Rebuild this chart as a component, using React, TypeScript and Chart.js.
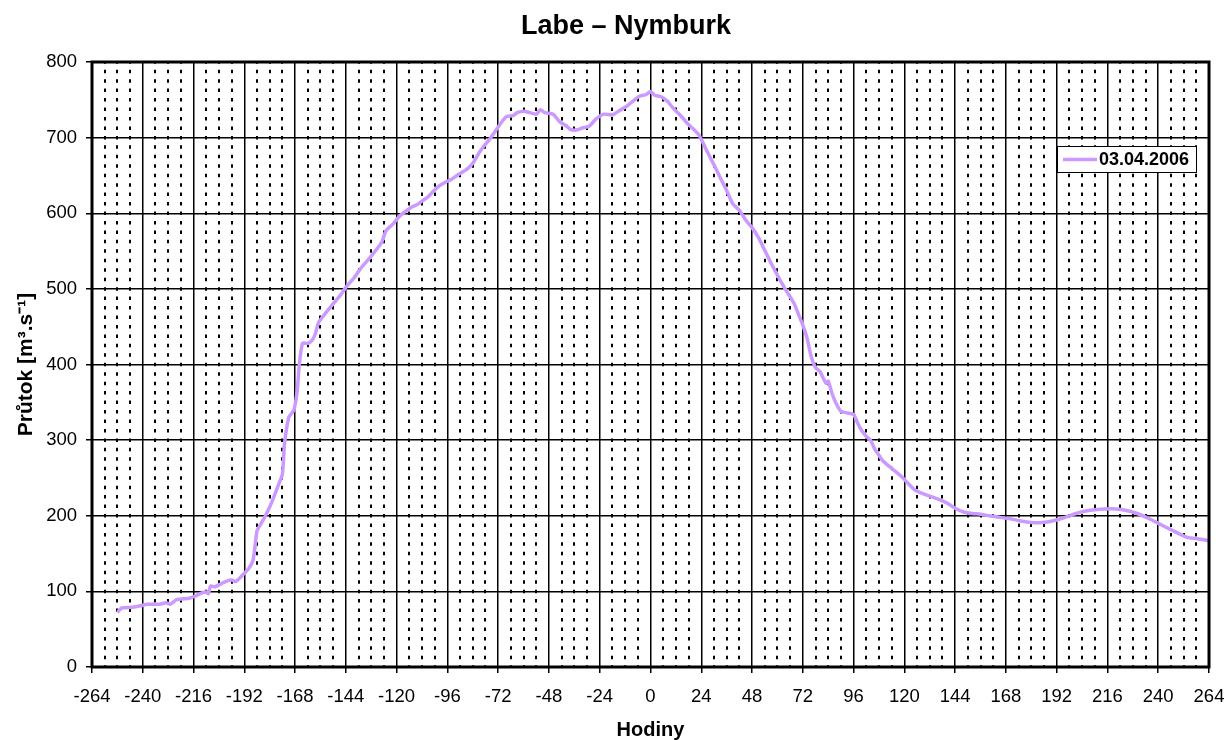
import React, { useEffect, useRef } from "react";
import { Chart, registerables } from "chart.js";

Chart.register(...registerables);

const chartTitle = "Labe – Nymburk";
const seriesLabel = "03.04.2006";
const xAxisTitle = "Hodiny";
const yAxisTitle = "Průtok [m³.s⁻¹]";

const xTicks = [-264, -240, -216, -192, -168, -144, -120, -96, -72, -48, -24, 0, 24, 48, 72, 96, 120, 144, 168, 192, 216, 240, 264];
const yTicks = [0, 100, 200, 300, 400, 500, 600, 700, 800];

const hours = [
  -252, -250, -245, -241, -238, -232, -229, -227, -224, -218, -215, -212, -210, -209, -208, -206, -203, -200, -198, -196,
  -193, -190, -188, -187, -186, -184, -182, -179, -176, -174, -173, -171, -169.5, -168.5, -167, -166, -164.5, -162, -160, -158.5,
  -157, -155, -151, -147, -144, -140, -137, -133, -129.5, -127, -125, -122, -119, -117, -113, -110, -108, -105, -103, -100,
  -97, -94, -91, -88, -86, -84, -81, -79, -76, -73, -70, -68, -65, -63, -60, -57, -54, -52, -50, -46,
  -43, -40, -38, -35, -32, -29, -26, -22, -18, -14, -11, -8, -5, -2, 0, 2, 5, 8, 11, 14,
  17, 20, 23, 26, 30, 33, 36, 39, 42, 45, 48, 51, 54, 57, 60, 63, 65, 68, 70, 72,
  74, 76, 78, 80, 82, 83, 84, 86, 88, 90, 93, 96, 98, 100, 102, 104, 106, 108, 110, 113,
  116, 119, 122, 125, 128, 132, 136, 140, 144, 148, 152, 156, 160, 165, 170, 175, 180, 185, 190, 195,
  200, 205, 210, 215, 220, 225, 230, 235, 240, 245, 250, 254, 258, 262, 264,
];

const flow = [
  72, 78, 79, 81, 83, 83, 85, 83, 89, 91, 94, 98, 99, 97, 107, 106, 110, 114, 115, 113,
  121, 130, 140, 158, 180, 190, 200, 218, 240, 255, 295, 330, 336, 340, 365, 400, 428, 428, 432, 440,
  455, 463, 477, 490, 502, 515, 527, 540, 552, 562, 577, 585, 595, 600, 608, 612, 616, 622, 628, 636,
  641, 645, 651, 656, 660, 666, 680, 688, 698, 710, 722, 728, 729, 733, 735, 733, 731, 737, 733, 731,
  721, 716, 711, 710, 713, 715, 724, 731, 730, 737, 742, 749, 755, 757, 761, 756, 754, 748, 738, 730,
  720, 712, 703, 686, 664, 647, 630, 612, 604, 591, 581, 568, 551, 534, 518, 503, 494, 480, 466, 452,
  435, 410, 396, 391, 380, 375, 378, 360, 347, 338, 336, 334, 322, 312, 305, 300, 288, 280, 272, 265,
  258, 251, 242, 234, 230, 226, 222, 217, 210, 205, 203, 202, 200, 198, 196, 193, 191, 191, 193, 197,
  202, 206, 208, 209, 209, 207, 203, 197, 190, 183, 176, 171, 170, 168, 167,
];

const FONT = "'Liberation Sans', Arial, sans-serif";
const LINE_COLOR = "#CC99FF";

const framePlugin = {
  id: "frameAndExtras",
  beforeDatasetsDraw(chart: any) {
    const { ctx, chartArea } = chart;
    const xs = chart.scales.x;
    const { top, bottom } = chartArea;
    const period = (bottom - top) / 64;
    ctx.save();
    ctx.strokeStyle = "#000";
    ctx.lineWidth = 2;
    ctx.setLineDash([3.5, period - 3.5]);
    ctx.lineDashOffset = 1.75;
    for (let h = xTicks[0]; h <= xTicks[xTicks.length - 1]; h += 6) {
      if (h % 24 === 0) continue;
      const px = Math.round(xs.getPixelForValue(h));
      ctx.beginPath();
      ctx.moveTo(px, top);
      ctx.lineTo(px, bottom);
      ctx.stroke();
    }
    ctx.restore();
  },
  afterDraw(chart: any) {
    const { ctx, chartArea } = chart;
    const { left, right, top, bottom } = chartArea;
    ctx.save();
    // frame
    ctx.strokeStyle = "#000";
    ctx.lineWidth = 3;
    ctx.strokeRect(left, top, right - left, bottom - top);
    // title
    ctx.fillStyle = "#000";
    ctx.font = `bold 27px ${FONT}`;
    ctx.textAlign = "center";
    ctx.textBaseline = "alphabetic";
    ctx.fillText(chartTitle, 626, 34);
    // legend
    const bx = right - 152;
    const by = top + 84;
    const bw = 139;
    const bh = 26;
    ctx.fillStyle = "#fff";
    ctx.fillRect(bx, by, bw, bh);
    ctx.lineWidth = 1;
    ctx.strokeStyle = "#000";
    ctx.strokeRect(bx + 0.5, by + 0.5, bw, bh);
    ctx.strokeStyle = LINE_COLOR;
    ctx.lineWidth = 3.5;
    ctx.beginPath();
    ctx.moveTo(bx + 6, by + 13.5);
    ctx.lineTo(bx + 40, by + 13.5);
    ctx.stroke();
    ctx.fillStyle = "#000";
    ctx.font = `bold 18px ${FONT}`;
    ctx.textAlign = "left";
    ctx.textBaseline = "middle";
    ctx.fillText(chart.data.datasets[0].label, bx + 42, by + 14);
    ctx.restore();
  },
};

export default function App() {
  const canvasRef = useRef<HTMLCanvasElement | null>(null);

  useEffect(() => {
    const canvas = canvasRef.current;
    if (!canvas) return;
    const points = hours.map((h, i) => ({ x: h, y: flow[i] }));
    const chart = new Chart(canvas, {
      type: "line",
      data: {
        datasets: [
          {
            label: seriesLabel,
            data: points,
            borderColor: LINE_COLOR,
            backgroundColor: LINE_COLOR,
            borderWidth: 3.5,
            pointRadius: 0,
            tension: 0.2,
            fill: false,
          },
        ],
      },
      options: {
        animation: false,
        responsive: false,
        devicePixelRatio: 1,
        layout: { padding: { left: 0, right: 17, top: 62, bottom: 0 } },
        plugins: {
          legend: { display: false },
          title: { display: false },
          tooltip: { enabled: false },
        },
        scales: {
          x: {
            type: "linear",
            min: xTicks[0],
            max: xTicks[xTicks.length - 1],
            afterBuildTicks: (scale: any) => {
              scale.ticks = xTicks.map((v) => ({ value: v }));
            },
            afterFit: (scale: any) => {
              scale.height = 73;
              scale.paddingLeft = 0;
              scale.paddingRight = 0;
              scale.paddingTop = 0;
              scale.paddingBottom = 0;
            },
            grid: {
              color: "#000",
              lineWidth: 1.5,
              drawTicks: true,
              tickLength: 6,
              tickColor: "#000",
              tickWidth: 1.5,
            },
            border: { display: false },
            ticks: {
              autoSkip: false,
              maxRotation: 0,
              padding: 13,
              color: "#000",
              font: { family: FONT, size: 18.5 },
              callback: (v: any) => String(v),
            },
            title: {
              display: true,
              text: xAxisTitle,
              color: "#000",
              font: { family: FONT, size: 20, weight: "bold", lineHeight: 1 },
              padding: { top: 0, bottom: 0 },
            },
          },
          y: {
            type: "linear",
            min: yTicks[0],
            max: yTicks[yTicks.length - 1],
            afterBuildTicks: (scale: any) => {
              scale.ticks = yTicks.map((v) => ({ value: v }));
            },
            afterFit: (scale: any) => {
              scale.width = 92;
              scale.paddingLeft = 0;
              scale.paddingRight = 0;
              scale.paddingTop = 0;
              scale.paddingBottom = 0;
            },
            grid: {
              color: "#000",
              lineWidth: 1.5,
              drawTicks: true,
              tickLength: 6,
              tickColor: "#000",
              tickWidth: 1.5,
            },
            border: { display: false },
            ticks: {
              padding: 9,
              color: "#000",
              font: { family: FONT, size: 18.5 },
              callback: (v: any) => String(v),
            },
            title: {
              display: true,
              text: yAxisTitle,
              color: "#000",
              font: { family: FONT, size: 21, weight: "bold", lineHeight: 1.2 },
              padding: { top: 14, bottom: 0 },
            },
          },
        },
      },
      plugins: [framePlugin],
    });
    return () => chart.destroy();
  }, []);

  return (
    <div style={{ position: "absolute", left: 0, top: 0, width: 1226, height: 740, background: "#fff" }}>
      <canvas ref={canvasRef} width={1226} height={740} style={{ display: "block", width: 1226, height: 740 }} />
    </div>
  );
}
